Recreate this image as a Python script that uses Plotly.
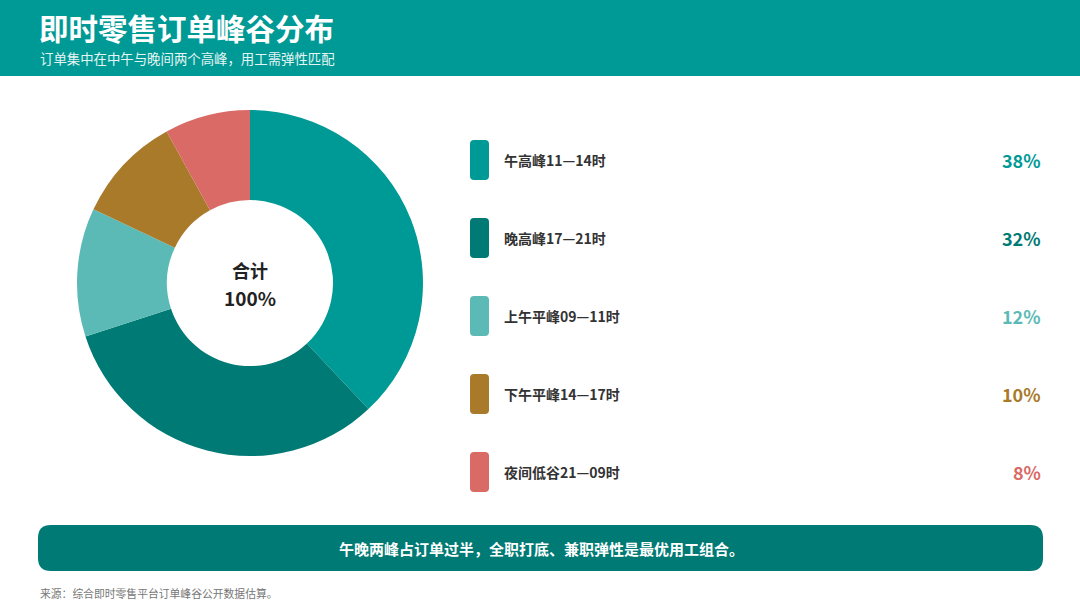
import plotly.graph_objects as go

# ---- data ----
categories = ["午高峰11—14时", "晚高峰17—21时", "上午平峰09—11时", "下午平峰14—17时", "夜间低谷21—09时"]
shares = [38, 32, 12, 10, 8]
colors = ["#009a96", "#007a74", "#5bbab5", "#a87a2a", "#d96a66"]

title = "即时零售订单峰谷分布"
subtitle = "订单集中在中午与晚间两个高峰，用工需弹性匹配"
banner_text = "午晚两峰占订单过半，全职打底、兼职弹性是最优用工组合。"
source_text = "来源：综合即时零售平台订单峰谷公开数据估算。"

W, H = 1080, 608
FONT = "Noto Sans CJK SC"


def px_x(x):
    return x / W


def px_y(y):
    return 1 - y / H


def rounded_rect(x0, y0, x1, y1, r):
    X0, X1 = px_x(x0), px_x(x1)
    Y0, Y1 = px_y(y0), px_y(y1)
    rx, ry = r / W, r / H
    return (f"M {X0+rx},{Y0} L {X1-rx},{Y0} Q {X1},{Y0} {X1},{Y0-ry} "
            f"L {X1},{Y1+ry} Q {X1},{Y1} {X1-rx},{Y1} L {X0+rx},{Y1} "
            f"Q {X0},{Y1} {X0},{Y1+ry} L {X0},{Y0-ry} Q {X0},{Y0} {X0+rx},{Y0} Z")


fig = go.Figure()

cx, cy, R = 250, 283, 173
fig.add_trace(go.Pie(
    labels=categories,
    values=shares,
    marker=dict(colors=colors, line=dict(width=0)),
    sort=False,
    direction="clockwise",
    rotation=0,
    hole=0.48,
    textinfo="none",
    hoverinfo="label+percent",
    showlegend=False,
    domain=dict(x=[px_x(cx - R), px_x(cx + R)], y=[px_y(cy + R), px_y(cy - R)]),
))

shapes = []
annotations = []

# header band
shapes.append(dict(type="rect", xref="paper", yref="paper", x0=0, x1=1,
                   y0=px_y(76), y1=1, fillcolor="#009a96", line=dict(width=0), layer="below"))
annotations.append(dict(text=f"<b>{title}</b>", x=px_x(37), y=px_y(27), xref="paper", yref="paper",
                        xanchor="left", yanchor="middle", showarrow=False,
                        font=dict(family=FONT, size=29.5, color="white")))
annotations.append(dict(text=subtitle, x=px_x(38), y=px_y(58), xref="paper", yref="paper",
                        xanchor="left", yanchor="middle", showarrow=False,
                        font=dict(family=FONT, size=13.4, color="#e6f5f4")))

# center text
annotations.append(dict(text="<b>合计</b>", x=px_x(cx), y=px_y(270), xref="paper", yref="paper",
                        xanchor="center", yanchor="middle", showarrow=False,
                        font=dict(family=FONT, size=18, color="#222222")))
annotations.append(dict(text="<b>100%</b>", x=px_x(cx), y=px_y(298), xref="paper", yref="paper",
                        xanchor="center", yanchor="middle", showarrow=False,
                        font=dict(family=FONT, size=19, color="#222222")))

# legend rows
row0, step = 160, 78
for i, (cat, val, col) in enumerate(zip(categories, shares, colors)):
    yc = row0 + i * step
    shapes.append(dict(type="path", xref="paper", yref="paper",
                       path=rounded_rect(470, yc - 20, 489, yc + 20, 4),
                       fillcolor=col, line=dict(width=0)))
    annotations.append(dict(text=f"<b>{cat}</b>", x=px_x(502), y=px_y(yc), xref="paper", yref="paper",
                            xanchor="left", yanchor="middle", showarrow=False,
                            font=dict(family=FONT, size=14, color="#333333")))
    annotations.append(dict(text=f"<b>{val}%</b>", x=px_x(1043), y=px_y(yc), xref="paper", yref="paper",
                            xanchor="right", yanchor="middle", showarrow=False,
                            font=dict(family=FONT, size=18, color=col)))

# bottom banner
shapes.append(dict(type="path", xref="paper", yref="paper",
                   path=rounded_rect(38, 525, 1043, 571, 13),
                   fillcolor="#007a74", line=dict(width=0)))
annotations.append(dict(text=f"<b>{banner_text}</b>", x=px_x(541), y=px_y(548), xref="paper", yref="paper",
                        xanchor="center", yanchor="middle", showarrow=False,
                        font=dict(family=FONT, size=15, color="white")))

# source
annotations.append(dict(text=source_text, x=px_x(38), y=px_y(593), xref="paper", yref="paper",
                        xanchor="left", yanchor="middle", showarrow=False,
                        font=dict(family=FONT, size=10.8, color="#777777")))

fig.update_layout(
    width=W, height=H,
    margin=dict(l=0, r=0, t=0, b=0),
    paper_bgcolor="white",
    plot_bgcolor="white",
    shapes=shapes,
    annotations=annotations,
    font=dict(family=FONT),
)

fig.write_html("out.html", config={"displayModeBar": False},
               post_script="document.body.style.margin='0';document.body.style.padding='0';")
